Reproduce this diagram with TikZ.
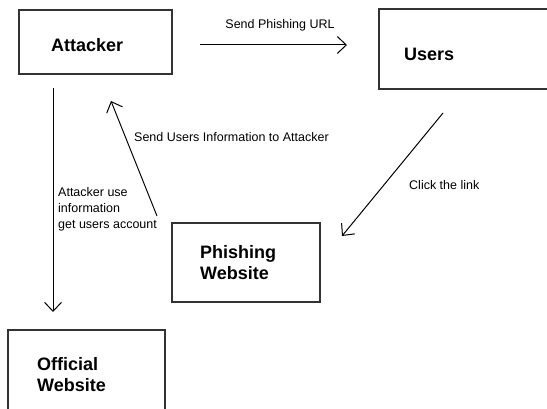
\documentclass[tikz,border=0pt]{standalone}
\usepackage{fontspec}
\setmainfont{Liberation Sans}
\usetikzlibrary{arrows.meta}
\begin{document}
\begin{tikzpicture}[x=1pt,y=-1pt,
  box/.style={draw=black!80,line width=1.3pt,rectangle,inner sep=0pt},
  boxlabel/.style={font=\fontsize{18}{21}\selectfont\bfseries,inner sep=0pt,align=left,anchor=west},
  lbl/.style={font=\fontsize{12.5}{16}\selectfont,inner sep=0pt,align=left},
  arr/.style={line width=1pt,-{Straight Barb[length=9pt,width=17pt,line width=1pt]}}]
\useasboundingbox (0,0) rectangle (547,409);
% boxes
\node[box,minimum width=153pt,minimum height=64pt] (attacker) at (95.5,42) {};
\node[box,minimum width=181pt,minimum height=80pt] (users) at (469.5,49) {};
\node[box,minimum width=148pt,minimum height=79pt] (phish) at (246,262.5) {};
\node[box,minimum width=157pt,minimum height=90pt] (official) at (86.5,375) {};
% box texts
\node[boxlabel] (attackert) at (51,45) {Attacker};
\node[boxlabel] (userst) at (404,54) {Users};
\node[boxlabel] (phisht) at (200,262.5) {Phishing\\Website};
\node[boxlabel] (officialt) at (37,375) {Official\\Website};
% connector ends
\coordinate (s1) at (200,45);
\coordinate (e1) at (347,45);
\coordinate (s2) at (443,113);
\coordinate (e2) at (342,236);
\coordinate (s3) at (157,216);
\coordinate (e3) at (111,101);
\coordinate (s4) at (53,88);
\coordinate (e4) at (53,312);
\draw[arr] (s1) -- (e1);
\draw[arr] (s2) -- (e2);
\draw[arr] (s3) -- (e3);
\draw[arr] (s4) -- (e4);
% labels
\node[lbl] (l1) at (280,25) {Send Phishing URL};
\node[lbl,anchor=west] (l2) at (134,137) {Send Users Information to Attacker};
\node[lbl,anchor=west] (l3) at (409,185) {Click the link};
\node[lbl,anchor=north west] (l4) at (58,187) {Attacker use\\information\\get users account};
\end{tikzpicture}
\end{document}
